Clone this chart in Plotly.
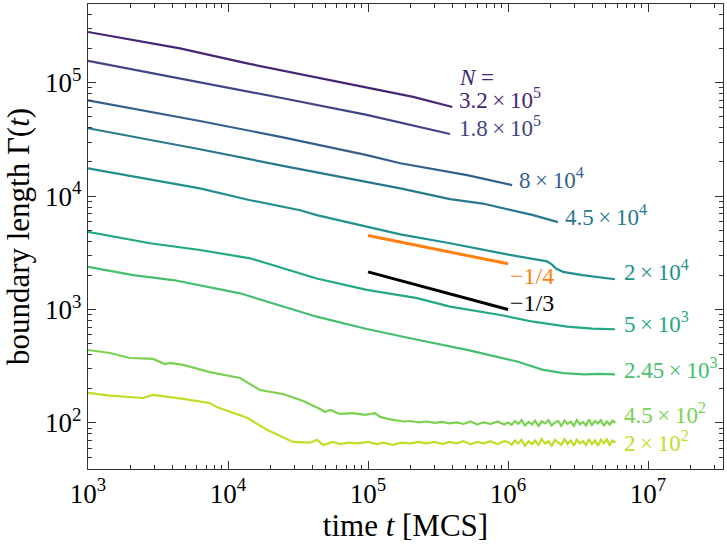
import numpy as np
import plotly.graph_objects as go

# ---- data ----
labels = ["3.2\u2009×\u200910<sup>5</sup>", "1.8\u2009×\u200910<sup>5</sup>", "8\u2009×\u200910<sup>4</sup>",
          "4.5\u2009×\u200910<sup>4</sup>", "2\u2009×\u200910<sup>4</sup>", "5\u2009×\u200910<sup>3</sup>",
          "2.45\u2009×\u200910<sup>3</sup>", "4.5\u2009×\u200910<sup>2</sup>", "2\u2009×\u200910<sup>2</sup>"]

t_N320000 = [1e3, 4.54e3, 1.37e4, 4.05e4, 1.22e5, 2.1e5, 4.0e5]
g_N320000 = [2.8e5, 2.01e5, 1.48e5, 1.13e5, 8.6e4, 7.5e4, 6.1e4]

t_N180000 = [1e3, 4.54e3, 6.3e3, 2.47e4, 9.8e4, 3.85e5]
g_N180000 = [1.56e5, 1.09e5, 1.02e5, 7.3e4, 5.2e4, 3.53e4]

t_N80000 = [1e3, 6.3e3, 2.47e4, 9.8e4, 1.7e5, 3.85e5, 5.1e5, 1.07e6]
g_N80000 = [7.0e4, 4.6e4, 3.3e4, 2.3e4, 1.95e4, 1.61e4, 1.53e4, 1.25e4]

t_N45000 = [1e3, 6.3e3, 2.47e4, 9.8e4, 1.7e5, 3.85e5, 6.6e5, 1.51e6, 2.27e6]
g_N45000 = [3.97e4, 2.59e4, 1.85e4, 1.34e4, 1.17e4, 9.4e3, 8.6e3, 6.8e3, 5.9e3]

t_N20000 = [1e3, 6.3e3, 1.44e4, 3.27e4, 4.3e4, 9.8e4, 1.7e5, 3.85e5, 1.03e6, 1.9e6,
            2.05e6, 2.2e6, 2.47e6, 3.4e6, 5.8e6]
g_N20000 = [1.76e4, 1.17e4, 9.2e3, 7.5e3, 6.8e3, 5.4e3, 4.6e3, 3.84e3, 3.03e3, 2.66e3,
            2.5e3, 2.3e3, 2.15e3, 2.01e3, 1.85e3]

t_N5000 = [1e3, 2.77e3, 6.3e3, 1.44e4, 4.3e4, 9.8e4, 2.24e5, 3.85e5, 8.8e5, 1.51e6, 2.64e6,
           4.0e6, 5.8e6]
g_N5000 = [4.85e3, 3.84e3, 3.35e3, 2.83e3, 1.88e3, 1.49e3, 1.26e3, 1.06e3, 895, 781, 706,
           680, 670]

t_N2450 = [1e3, 2.1e3, 4.05e3, 7.1e3, 1.22e4, 4.3e4, 9.8e4, 2.0e5, 3.85e5, 5.1e5, 1.16e6,
           1.78e6, 2.5e6, 3.5e6, 4.5e6, 5.8e6]
g_N2450 = [2.38e3, 2.01e3, 1.82e3, 1.59e3, 1.39e3, 865, 674, 558, 471, 441, 348,
           294, 275, 268, 271, 268]

# late-time sample times shared by the two small systems (noisy plateau)
t_late = [1.0e6, 1.06e6, 1.12e6, 1.18e6, 1.25e6, 1.32e6, 1.4e6, 1.48e6, 1.56e6, 1.65e6,
          1.74e6, 1.84e6, 1.94e6, 2.05e6, 2.16e6, 2.28e6, 2.4e6, 2.53e6, 2.66e6, 2.8e6,
          2.95e6, 3.1e6, 3.26e6, 3.43e6, 3.6e6, 3.78e6, 3.97e6, 4.17e6, 4.38e6, 4.6e6,
          4.83e6, 5.07e6, 5.32e6, 5.58e6, 5.85e6]

t_N450_early = [1e3, 1.44e3, 2.0e3, 2.91e3, 3.55e3, 3.85e3, 4.78e3, 7.4e3, 1.22e4, 1.69e4,
                2.47e4, 3.44e4, 4.54e4, 4.93e4, 5.36e4, 6.3e4, 7.8e4, 9.5e4, 1.12e5, 1.22e5,
                1.4e5, 1.6e5, 1.8e5, 2.0e5, 2.3e5, 2.6e5, 3.0e5, 3.4e5, 3.8e5, 4.3e5, 4.8e5,
                5.4e5, 6.0e5, 6.7e5, 7.5e5, 8.4e5, 9.4e5]
g_N450_early = [440, 414, 374, 367, 331, 338, 325, 281, 249, 195,
                180, 156, 133, 125, 130, 120, 122, 118, 122, 113,
                108, 105, 103, 104, 101, 103, 100, 102, 99, 101, 98,
                103, 97, 101, 98, 103, 97]
g_N450_late = [101, 96, 104, 98, 106, 95, 102, 97, 105, 94, 103, 99, 106, 95, 101, 104,
               94, 105, 98, 103, 94, 106, 97, 102, 95, 107, 96, 104, 99, 106, 94, 103,
               97, 105, 100]

t_N200_early = [1e3, 1.44e3, 2.47e3, 2.91e3, 4.78e3, 7.4e3, 8.3e3, 1.37e4, 1.9e4, 2.91e4,
                3.85e4, 4.32e4, 4.78e4, 5.6e4, 6.3e4, 7.2e4, 8.5e4, 1.0e5, 1.15e5, 1.3e5,
                1.5e5, 1.75e5, 2.0e5, 2.3e5, 2.6e5, 3.0e5, 3.4e5, 3.8e5, 4.3e5, 4.8e5,
                5.4e5, 6.0e5, 6.7e5, 7.5e5, 8.4e5, 9.4e5]
g_N200_early = [184, 174, 166, 177, 163, 150, 138, 111, 87, 68,
                67, 71, 64, 68, 65, 67, 66, 68, 65, 67,
                64, 67, 66, 68, 66, 68, 65, 68, 66, 69,
                65, 68, 66, 69, 65, 69]
g_N200_late = [68, 64, 70, 66, 71, 63, 69, 65, 70, 64, 72, 66, 69, 63, 71, 67, 64, 72,
               65, 70, 63, 71, 66, 69, 64, 72, 65, 70, 63, 71, 66, 72, 64, 70, 67]

t_N450 = t_N450_early + t_late
g_N450 = g_N450_early + g_N450_late
t_N200 = t_N200_early + t_late
g_N200 = g_N200_early + g_N200_late

series_t = [t_N320000, t_N180000, t_N80000, t_N45000, t_N20000, t_N5000, t_N2450, t_N450, t_N200]
series_g = [g_N320000, g_N180000, g_N80000, g_N45000, g_N20000, g_N5000, g_N2450, g_N450, g_N200]

ref_t = [1e5, 1e6]
ref_quarter = [4500, 2530]
ref_third = [2150, 1000]

x_ticks = [1e3, 1e4, 1e5, 1e6, 1e7]
x_ticktext = ["10<sup>3</sup>", "10<sup>4</sup>", "10<sup>5</sup>", "10<sup>6</sup>", "10<sup>7</sup>"]
y_ticks = [1e2, 1e3, 1e4, 1e5]
y_ticktext = ["10<sup>2</sup>", "10<sup>3</sup>", "10<sup>4</sup>", "10<sup>5</sup>"]
x_minor = [m * 10 ** e for e in range(3, 8) for m in range(2, 10)]
y_minor = [m * 10 ** e for e in range(1, 6) for m in range(2, 10)]

# ---- style ----
colors = ["#482475", "#414487", "#355f8d", "#2a788e", "#21918c", "#22a884",
          "#44bf70", "#7ad151", "#bddf26"]
FONT = "Liberation Serif"

# label anchor positions (time, value) for annotations
label_pos = [(4.3e5, 7.2e4), (4.3e5, 4.07e4), (1.16e6, 1.44e4), (2.47e6, 6.8e3),
             (6.5e6, 2.19e3), (6.5e6, 7.76e2), (6.5e6, 3.05e2), (6.5e6, 1.2e2), (6.5e6, 6.9e1)]

fig = go.Figure()
for t, g, c in zip(series_t, series_g, colors):
    fig.add_trace(go.Scatter(x=t, y=g, mode="lines", line=dict(color=c, width=2.2),
                             showlegend=False))

fig.add_trace(go.Scatter(x=ref_t, y=ref_quarter, mode="lines",
                         line=dict(color="#ff7f0e", width=3), showlegend=False))
fig.add_trace(go.Scatter(x=ref_t, y=ref_third, mode="lines",
                         line=dict(color="black", width=3), showlegend=False))

ann = []
for (px, py), lab, c in zip(label_pos, labels, colors):
    ann.append(dict(x=np.log10(px), y=np.log10(py), xref="x", yref="y", text=lab,
                    showarrow=False, xanchor="left", yanchor="middle",
                    font=dict(family=FONT, size=23, color=c)))
ann.append(dict(x=np.log10(4.3e5), y=np.log10(1.12e5), xref="x", yref="y",
                text="<i>N</i> =", showarrow=False, xanchor="left", yanchor="middle",
                font=dict(family=FONT, size=23, color=colors[0])))
ann.append(dict(x=np.log10(1.0e6), y=np.log10(1.97e3), xref="x", yref="y",
                text="−1/4", showarrow=False, xanchor="left", yanchor="middle",
                font=dict(family=FONT, size=24, color="#ff7f0e")))
ann.append(dict(x=np.log10(1.0e6), y=np.log10(1.14e3), xref="x", yref="y",
                text="−1/3", showarrow=False, xanchor="left", yanchor="middle",
                font=dict(family=FONT, size=24, color="black")))

axis_common = dict(showline=True, linecolor="#333333", linewidth=1.2, mirror="allticks",
                   ticks="inside", ticklen=8, tickwidth=1.2, tickcolor="#333333",
                   showgrid=False, zeroline=False,
                   tickfont=dict(family=FONT, size=27, color="black"))

fig.update_layout(
    width=727, height=545,
    margin=dict(l=88, r=4, t=4, b=76),
    plot_bgcolor="white", paper_bgcolor="white",
    annotations=ann,
    xaxis=dict(type="log", range=[3, 7.535], tickvals=x_ticks, ticktext=x_ticktext,
               minor=dict(ticks="inside", ticklen=4, tickwidth=1, tickcolor="#333333",
                          tickvals=x_minor, showgrid=False),
               title=dict(text="time <i>t</i> [MCS]",
                          font=dict(family=FONT, size=31, color="black"), standoff=2),
               **axis_common),
    yaxis=dict(type="log", range=[1.594, 5.694], tickvals=y_ticks, ticktext=y_ticktext,
               minor=dict(ticks="inside", ticklen=4, tickwidth=1, tickcolor="#333333",
                          tickvals=y_minor, showgrid=False),
               title=dict(text="boundary length Γ(<i>t</i>)",
                          font=dict(family=FONT, size=31, color="black"), standoff=6),
               **axis_common),
)

fig.write_html("out.html", config={"displayModeBar": False},
               post_script="document.body.style.margin='0';")
